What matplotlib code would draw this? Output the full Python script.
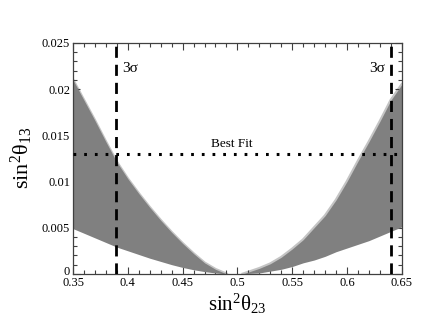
import matplotlib
matplotlib.use("Agg")
import matplotlib.pyplot as plt
from matplotlib.ticker import MultipleLocator
from matplotlib.transforms import ScaledTranslation

plt.rcParams["font.family"] = ["Liberation Serif", "DejaVu Serif"]
plt.rcParams["mathtext.fontset"] = "custom"
plt.rcParams["mathtext.rm"] = "Liberation Serif"
plt.rcParams["mathtext.it"] = "Liberation Serif"

# allowed region, left branch (sin^2 theta23 < 0.5)
x_left = [0.35, 0.36, 0.37, 0.38, 0.39, 0.40, 0.41, 0.42, 0.43, 0.44, 0.45, 0.46, 0.47, 0.48, 0.49]
upper_left = [0.0210, 0.0188, 0.0166, 0.0143, 0.0121, 0.0103, 0.0087, 0.0072, 0.0058, 0.0045,
              0.0033, 0.0022, 0.0012, 0.0005, 0.0]
lower_left = [0.0049, 0.0044, 0.0039, 0.0034, 0.0029, 0.0025, 0.0021, 0.0017, 0.00135, 0.0010,
              0.0007, 0.00045, 0.00025, 0.0001, 0.0]

# right branch (sin^2 theta23 > 0.5)
x_right = [0.505, 0.51, 0.52, 0.53, 0.54, 0.55, 0.56, 0.57, 0.58, 0.59, 0.60, 0.61, 0.62, 0.63, 0.64, 0.65]
upper_right = [0.0, 0.0002, 0.0006, 0.0011, 0.0018, 0.0027, 0.0037, 0.0050, 0.0063, 0.0080,
               0.0100, 0.0122, 0.0143, 0.0165, 0.0188, 0.0205]
lower_right = [0.0, 0.00005, 0.0001, 0.0003, 0.0005, 0.0008, 0.0012, 0.0015, 0.0019, 0.0024,
               0.0028, 0.0032, 0.0036, 0.0041, 0.0046, 0.0051]

sigma3_bounds = [0.389, 0.64]
best_fit = 0.013

x_ticks = [0.35, 0.40, 0.45, 0.50, 0.55, 0.60, 0.65]
x_labels = ["0.35", "0.4", "0.45", "0.5", "0.55", "0.6", "0.65"]
y_ticks = [0, 0.005, 0.010, 0.015, 0.020, 0.025]
y_labels = ["0", "0.005", "0.01", "0.015", "0.02", "0.025"]

fig = plt.figure(figsize=(4.27, 3.30), dpi=100)
ax = fig.add_axes([0.171, 0.170, 0.770, 0.700])

gray = "#808080"
# soft edge like scattered points
ax.plot(x_left, upper_left, color="#c4c4c4", lw=2.0, zorder=1)
ax.plot(x_right, upper_right, color="#c4c4c4", lw=2.0, zorder=1)
ax.fill_between(x_left, lower_left, upper_left, color=gray, lw=0, zorder=2)
ax.fill_between(x_right, lower_right, upper_right, color=gray, lw=0, zorder=2)

for xv in sigma3_bounds:
    ax.axvline(xv, color="black", lw=2.0, ls=(0, (4, 2.5)), zorder=3)
ax.axhline(best_fit, color="black", lw=2.2, ls=(0, (0.9, 2.6)), zorder=3)

ax.text(0.3945, 0.0222, "3σ", fontsize=11, va="center", ha="left")
ax.text(0.6345, 0.0222, "3σ", fontsize=11, va="center", ha="right")
ax.text(0.495, 0.01345, "Best Fit", fontsize=9.5, va="bottom", ha="center")

ax.set_xlim(0.35, 0.65)
ax.set_ylim(0, 0.025)
ax.set_xticks(x_ticks)
ax.set_xticklabels(x_labels)
ax.set_yticks(y_ticks)
ax.set_yticklabels(y_labels)
ax.xaxis.set_minor_locator(MultipleLocator(0.01))
ax.yaxis.set_minor_locator(MultipleLocator(0.001))
ax.tick_params(which="both", direction="in", top=True, right=True, color="#404040",
               labelsize=9, pad=2)
ax.tick_params(which="major", length=5, width=0.8)
ax.tick_params(which="minor", length=3, width=0.8)
for s in ax.spines.values():
    s.set_color("#404040")
    s.set_linewidth(0.9)

# lift the "0" label a little, as in the original
zero_lbl = ax.get_yticklabels()[0]
zero_lbl.set_transform(zero_lbl.get_transform() + ScaledTranslation(0, 3 / 100, fig.dpi_scale_trans))

ax.set_xlabel("sin$^2$θ$_{23}$", fontsize=15, labelpad=2)
ax.set_ylabel("sin$^2$θ$_{13}$", fontsize=16, labelpad=5)

fig.savefig("out.png", dpi=100)
